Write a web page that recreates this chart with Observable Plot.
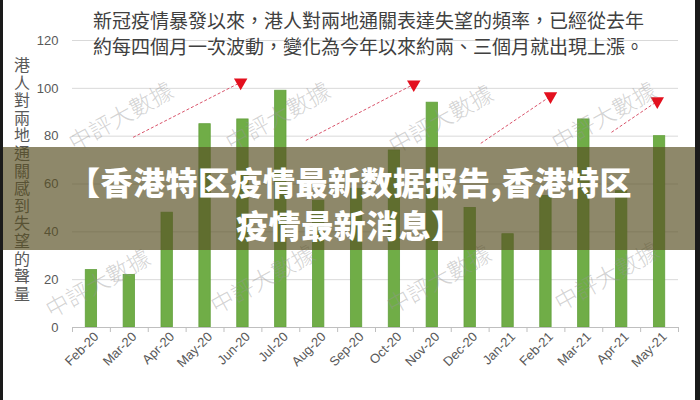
<!DOCTYPE html>
<html><head><meta charset="utf-8">
<script src="https://cdn.jsdelivr.net/npm/d3@7"></script>
<script src="https://cdn.jsdelivr.net/npm/@observablehq/plot@0.6"></script>
<style>
body{margin:0;background:#fff;}
#wrap{position:relative;width:700px;height:400px;overflow:hidden;background:#fff;}
#chart svg{display:block;}
.wm{position:absolute;transform:translate(-50%,-50%) rotate(-29deg);font-family:"Noto Sans CJK TC";font-size:23px;font-weight:300;color:rgba(150,150,150,0.42);white-space:nowrap;}
#title{position:absolute;left:93px;top:7px;font-family:"Noto Sans CJK TC";font-size:19px;line-height:26px;color:#404040;white-space:nowrap;}
#ylab{position:absolute;left:10px;top:57px;writing-mode:vertical-rl;text-orientation:upright;font-family:"Noto Sans CJK TC";font-size:16px;letter-spacing:1.6px;color:#595959;}
#banner{position:absolute;left:0;top:147px;width:700px;height:103px;background:rgba(88,80,36,0.68);color:#fff;font-family:"Noto Sans CJK SC";font-weight:900;font-size:32px;letter-spacing:0.5px;line-height:43px;text-align:center;padding-top:13px;box-sizing:border-box;white-space:nowrap;}
#banner div{height:43px;}
#bl{position:absolute;left:0;top:0;width:3px;height:400px;background:#1a1a1a;}
#br{position:absolute;right:0;top:0;width:5px;height:400px;background:#1a1a1a;}
</style></head><body>
<div id="wrap">
<div id="chart"></div>
<div id="wms"></div>
<div id="title"></div>
<div id="ylab"></div>
<div id="banner"></div>
<div id="bl"></div><div id="br"></div>
</div>
<script>
const months = ["Feb-20","Mar-20","Apr-20","May-20","Jun-20","Jul-20","Aug-20","Sep-20","Oct-20","Nov-20","Dec-20","Jan-21","Feb-21","Mar-21","Apr-21","May-21"];
const values = [24,22,48,85,87,99,53,58,74,94,50,39,55,87,57,80];
const yTicks = [0,20,40,60,80,100,120];
// trend arrows (month index, value)
const arrowX1 = [1.1,5.66,10.28,13.73];
const arrowY1 = [79.5,78.2,77,81.6];
const arrowX2 = [3.94,8.51,12.12,14.94];
const arrowY2 = [102.5,101.7,96.7,94.6];
const titleLines = ["新冠疫情暴發以來，港人對兩地通關表達失望的頻率，已經從去年","約每四個月一次波動，變化為今年以來約兩、三個月就出現上漲。"];
const yLabel = "港人對兩地通關感到失望的聲量";
const bannerLines = ["【香港特区疫情最新数据报告,香港特区","疫情最新消息】"];
const watermark = "中評大數據";

const data = months.map((m,i)=>({i, month:m, value:values[i]}));
const idx = d3.range(months.length);
const bounds = d3.range(months.length+1).map(i=>i-0.5);
const arrows = d3.range(arrowX1.length);

const chart = Plot.plot({
  width:700, height:400,
  marginLeft:72, marginRight:22, marginTop:40, marginBottom:73,
  style:{fontFamily:"Liberation Sans, Arial, sans-serif", fontSize:"13px", color:"#595959", background:"transparent"},
  x:{type:"linear", domain:[-0.5, months.length-0.5]},
  y:{domain:[0,120]},
  marks:[
    Plot.ruleY(yTicks.filter(t=>t>0), {stroke:"#d9d9d9", strokeWidth:1}),
    Plot.rectY(data, {x1:d=>d.i-0.15, x2:d=>d.i+0.15, y:"value", fill:"#70ad47", stroke:"#62a03c", strokeWidth:0.8}),
    Plot.ruleY([0], {stroke:"#bfbfbf", strokeWidth:1}),
    Plot.axisX({ticks:bounds, tickSize:5, tickFormat:()=>"", stroke:"#bfbfbf", label:null}),
    Plot.axisX({ticks:idx, tickSize:0, tickPadding:7, tickRotate:-45, tickFormat:i=>months[i], label:null, dx:5, fontSize:13}),
    Plot.axisY({ticks:yTicks, tickSize:0, tickPadding:14, label:null, fontSize:13}),
    Plot.link(arrows, {x1:i=>arrowX1[i], y1:i=>arrowY1[i], x2:i=>arrowX2[i], y2:i=>arrowY2[i], stroke:"#d9546b", strokeWidth:1, strokeDasharray:"3,2"}),
    Plot.dot(arrows, {x:i=>arrowX2[i], y:i=>arrowY2[i], symbol:"triangle", r:5, fill:"#e3101e", stroke:"none", rotate:180})
  ]
});
document.getElementById("chart").appendChild(chart);

document.getElementById("title").innerHTML = titleLines.join("<br>");
document.getElementById("ylab").textContent = yLabel;
const banner = document.getElementById("banner");
bannerLines.forEach(t=>{ const d = document.createElement("div"); d.textContent = t; banner.appendChild(d); });

const wmPos = [[120,115],[277,115],[440,118],[603,115],[97,282],[262,278],[438,278],[606,275]];
const wms = document.getElementById("wms");
wmPos.forEach(([x,y])=>{
  const s = document.createElement("div");
  s.className = "wm"; s.textContent = watermark;
  s.style.left = x+"px"; s.style.top = y+"px";
  wms.appendChild(s);
});
</script>
</body></html>
